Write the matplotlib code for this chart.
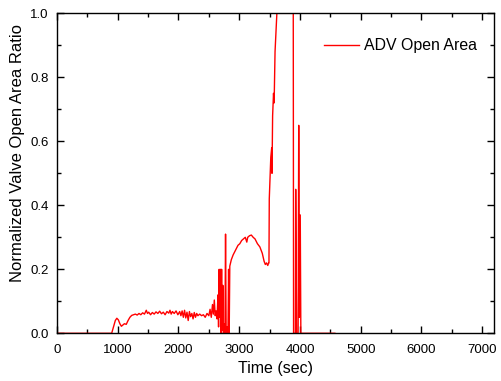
import matplotlib
matplotlib.use("Agg")
import matplotlib.pyplot as plt
from matplotlib.ticker import MultipleLocator

from matplotlib import rcParams
rcParams['font.family'] = 'sans-serif'
rcParams['font.sans-serif'] = ['Liberation Sans', 'DejaVu Sans']

# Time (sec) and normalized ADV open area ratio
time = [0, 900, 930, 960, 985, 1010, 1035, 1060, 1085, 1110, 1140, 1170, 1200, 1230, 1260, 1290,
        1320, 1350, 1380, 1410, 1440, 1470, 1490, 1510, 1540, 1570, 1600, 1630, 1660, 1690, 1720,
        1750, 1780, 1810, 1840, 1860, 1880, 1900, 1930, 1960, 1990, 2020, 2040, 2060, 2080, 2100,
        2120, 2140, 2160, 2180, 2200, 2220, 2240, 2260, 2280, 2300, 2320, 2350, 2380, 2410, 2440,
        2470, 2500, 2520, 2540, 2560, 2575, 2590, 2605, 2620, 2635, 2650, 2660, 2670, 2680, 2690,
        2700, 2710, 2720, 2730, 2740, 2750, 2765, 2775, 2785, 2800, 2815, 2825, 2835, 2845, 2870,
        2900, 2940, 2980, 3010, 3040, 3070, 3100, 3125, 3140, 3170, 3200, 3230, 3260, 3300, 3340,
        3380, 3410, 3430, 3450, 3470, 3485, 3490, 3495, 3520, 3535, 3540, 3550, 3565, 3575, 3590,
        3600, 3610, 3620, 3890, 3895, 3925, 3930, 3945, 3970, 3980, 3990, 4005, 4015, 4575]
adv_open = [0.0, 0.0, 0.02, 0.04, 0.047, 0.042, 0.03, 0.022, 0.026, 0.03, 0.028, 0.04, 0.05, 0.056, 0.058, 0.06,
            0.057, 0.062, 0.058, 0.064, 0.06, 0.072, 0.062, 0.066, 0.058, 0.065, 0.06, 0.067, 0.062, 0.069, 0.061,
            0.066, 0.058, 0.068, 0.063, 0.072, 0.06, 0.068, 0.062, 0.07, 0.058, 0.068, 0.055, 0.07, 0.05, 0.072,
            0.048, 0.066, 0.04, 0.068, 0.052, 0.062, 0.045, 0.065, 0.05, 0.062, 0.055, 0.06, 0.055, 0.058, 0.05,
            0.062, 0.055, 0.075, 0.05, 0.09, 0.06, 0.104, 0.055, 0.07, 0.045, 0.12, 0.02, 0.2, 0.05, 0.2,
            0.0, 0.2, 0.01, 0.15, 0.0, 0.03, 0.0, 0.31, 0.0, 0.02, 0.0, 0.2, 0.0, 0.21, 0.23,
            0.245, 0.26, 0.275, 0.28, 0.29, 0.295, 0.3, 0.285, 0.3, 0.305, 0.307, 0.3, 0.295, 0.28, 0.27,
            0.25, 0.225, 0.215, 0.22, 0.212, 0.22, 0.22, 0.42, 0.55, 0.58, 0.5, 0.68, 0.75, 0.72, 0.88,
            0.92, 0.96, 1.0, 1.0, 0.0, 0.0, 0.45, 0.0, 0.0, 0.65, 0.05, 0.37, 0.0, 0.0]

fig = plt.figure(figsize=(5.01, 3.81), dpi=100)
ax = fig.add_axes([0.1138, 0.1252, 0.8728, 0.8398])

ax.plot(time, adv_open, color="red", lw=1.0, label="ADV Open Area")

ax.set_xlim(0, 7200)
ax.set_ylim(0, 1.0)
ax.xaxis.set_major_locator(MultipleLocator(1000))
ax.xaxis.set_minor_locator(MultipleLocator(500))
ax.yaxis.set_major_locator(MultipleLocator(0.2))
ax.yaxis.set_minor_locator(MultipleLocator(0.1))
ax.tick_params(which="both", direction="in", top=True, right=True, labelsize=9.5, width=1)
ax.tick_params(which="major", length=5)
ax.tick_params(which="minor", length=3)
ax.tick_params(axis="x", which="major", pad=8)
ax.tick_params(axis="y", which="major", pad=6)
for s in ax.spines.values():
    s.set_linewidth(1.0)

ax.set_xlabel("Time (sec)", fontsize=11.5)
ax.set_ylabel("Normalized Valve Open Area Ratio", fontsize=12)
ax.xaxis.set_label_coords(0.5, -0.088)
ax.yaxis.set_label_coords(-0.073, 0.563)
ax.legend(loc="upper right", frameon=False, fontsize=11.4, handlelength=2.2,
          handletextpad=0.35, bbox_to_anchor=(0.994, 0.966))

fig.savefig("out.png", dpi=100)
